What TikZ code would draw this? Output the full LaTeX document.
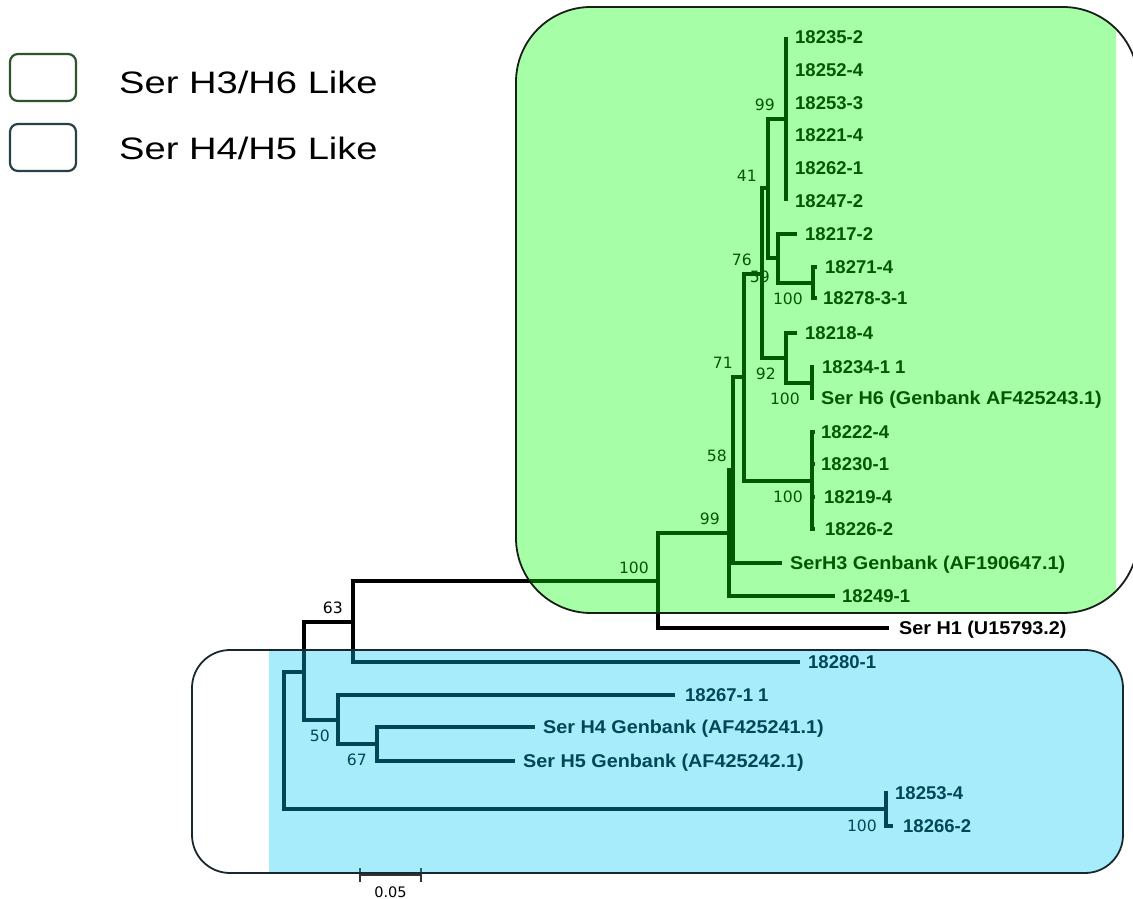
\documentclass[tikz,border=0pt]{standalone}
\usepackage{fontspec}
\setmainfont{Liberation Sans}
\newfontfamily\bsfont{DejaVu Sans}
\newfontfamily\legfont[FakeStretch=1.23]{Liberation Sans}
\newfontfamily\widefont[FakeStretch=1.07]{Liberation Sans}
\definecolor{gover}{rgb}{0,1,0}
\definecolor{bover}{rgb}{0,0.79,0.94}
\definecolor{gedge}{RGB}{45,85,45}
\definecolor{bedge}{RGB}{40,65,72}
\definecolor{boxline}{RGB}{25,30,25}
\definecolor{bboxline}{RGB}{25,40,45}
\begin{document}
\begin{tikzpicture}[x=1pt,y=-1pt,
  br/.style={line width=3.2pt, line join=miter, line cap=butt, black},
  leaf/.style={anchor=west, inner xsep=8pt, inner ysep=0pt, text height=13.3pt, text depth=0pt,
               font=\fontsize{18.5}{20}\selectfont\bfseries},
  wleaf/.style={leaf, font=\widefont\fontsize{18.5}{20}\selectfont\bfseries},
  bs/.style={anchor=east, inner sep=0pt, text height=11.3pt, text depth=0pt,
             font=\bsfont\fontsize{15.6}{16}\selectfont},
  legbox/.style={draw, line width=2.2pt, rounded corners=8pt, minimum width=66pt, minimum height=47pt, inner sep=0pt, fill=white},
  legtext/.style={anchor=base west, inner sep=0pt, font=\legfont\fontsize{31}{32}\selectfont}]
\useasboundingbox (0,0) rectangle (1133,899);

% legend
\node[legbox, draw=gedge] (k1) at (43,77.5) {};
\node[legbox, draw=bedge] (k2) at (43,147.5) {};
\node[legtext] (lg1) at (119,94) {Ser H3/H6 Like};
\node[legtext] (lg2) at (119,159) {Ser H4/H5 Like};

% internal nodes
\coordinate (R) at (284,740);
\coordinate (n303) at (304,672);
\coordinate (n353) at (353,622);
\coordinate (n658) at (658,581);
\coordinate (n729) at (729,533);
\coordinate (n733) at (733,470);
\coordinate (n744) at (744,377);
\coordinate (n762) at (762,274);
\coordinate (n768) at (768,188);
\coordinate (n786a) at (786,119);
\coordinate (n778) at (778,258);
\coordinate (n813) at (813,283);
\coordinate (n786b) at (786,358);
\coordinate (n810) at (812,383);
\coordinate (n812) at (812,481);
\coordinate (n338) at (338,720);
\coordinate (n377) at (377,744);
\coordinate (n887) at (886,809);

% leaves
\node[leaf, inner xsep=9pt] (a1) at (786,37) {18235-2};
\node[leaf, inner xsep=9pt] (a2) at (786,70) {18252-4};
\node[leaf, inner xsep=9pt] (a3) at (786,103) {18253-3};
\node[leaf, inner xsep=9pt] (a4) at (786,135) {18221-4};
\node[leaf, inner xsep=9pt] (a5) at (786,168) {18262-1};
\node[leaf, inner xsep=9pt] (a6) at (786,201) {18247-2};
\node[leaf] (b1) at (797,234) {18217-2};
\node[leaf] (c1) at (817,267) {18271-4};
\node[leaf, inner xsep=6pt] (c2) at (817,298) {18278-3-1};
\node[leaf] (d1) at (797,333) {18218-4};
\node[leaf] (e1) at (814,367) {18234-1 1};
\node[wleaf, inner xsep=7pt] (e2) at (814,398) {Ser H6 (Genbank AF425243.1)};
\node[leaf, inner xsep=6pt] (f1) at (815,432) {18222-4};
\node[leaf, inner xsep=6pt] (f2) at (815,464) {18230-1};
\node[leaf, inner xsep=9pt] (f3) at (815,497) {18219-4};
\node[leaf, inner xsep=10pt] (f4) at (815,529) {18226-2};
\node[wleaf] (g1) at (782,563) {SerH3 Genbank (AF190647.1)};
\node[leaf, inner xsep=7pt] (g2) at (835,596) {18249-1};
\node[wleaf, inner xsep=10pt] (h1) at (889,628) {Ser H1 (U15793.2)};
\node[leaf] (i1) at (800,662) {18280-1};
\node[leaf, inner xsep=10pt] (j1) at (675,695) {18267-1 1};
\node[wleaf] (j2) at (535,727) {Ser H4 Genbank (AF425241.1)};
\node[wleaf] (j3) at (515,761) {Ser H5 Genbank (AF425242.1)};
\node[leaf, inner xsep=7pt] (k3) at (888,793) {18253-4};
\node[leaf, inner xsep=10pt] (k4) at (893,826) {18266-2};

% branches
\draw[br] (R) |- (n303);
\draw[br] (R) |- (n887);
\draw[br] (n303) |- (n353);
\draw[br] (n303) |- (n338);
\draw[br] (n353) |- (n658);
\draw[br] (n353) |- (i1.west);
\draw[br] (n658) |- (n729);
\draw[br] (n658) |- (h1.west);
\draw[br] (n729) |- (n733);
\draw[br] (n729) |- (g2.west);
\draw[br] (n733) |- (n744);
\draw[br] (n733) |- (g1.west);
\draw[br] (n744) |- (n762);
\draw[br] (n744) |- (n812);
\draw[br] (n762) |- (n768);
\draw[br] (n762) |- (n786b);
\draw[br] (n768) |- (n786a);
\draw[br] (n768) |- (n778);
\draw[br] (n786a) |- (a1.west);
\draw[br] (n786a) |- (a2.west);
\draw[br] (n786a) |- (a3.west);
\draw[br] (n786a) |- (a4.west);
\draw[br] (n786a) |- (a5.west);
\draw[br] (n786a) |- (a6.west);
\draw[br] (n778) |- (b1.west);
\draw[br] (n778) |- (n813);
\draw[br] (n813) |- (c1.west);
\draw[br] (n813) |- (c2.west);
\draw[br] (n786b) |- (d1.west);
\draw[br] (n786b) |- (n810);
\draw[br] (n810) |- (e1.west);
\draw[br] (n810) |- (e2.west);
\draw[br] (n812) |- (f1.west);
\draw[br] (n812) |- (f2.west);
\draw[br] (n812) |- (f3.west);
\draw[br] (n812) |- (f4.west);
\draw[br] (n338) |- (j1.west);
\draw[br] (n338) |- (n377);
\draw[br] (n377) |- (j2.west);
\draw[br] (n377) |- (j3.west);
\draw[br] (n887) |- (k3.west);
\draw[br] (n887) |- (k4.west);

% bootstrap values
\node[bs] (s1) at (775,105) {99};
\node[bs] (s2) at (757,176) {41};
\node[bs] (s3) at (752,260) {76};
\node[bs] (s4) at (770,277) {59};
\node[bs] (s5) at (803,299) {100};
\node[bs] (s6) at (733,363) {71};
\node[bs] (s7) at (776,374) {92};
\node[bs] (s8) at (800,399) {100};
\node[bs] (s9) at (727,456) {58};
\node[bs] (s10) at (803,497) {100};
\node[bs] (s11) at (720,519) {99};
\node[bs] (s12) at (649,568) {100};
\node[bs] (s13) at (343,608) {63};
\node[bs] (s14) at (330,736) {50};
\node[bs] (s15) at (367,760) {67};
\node[bs] (s16) at (877,826) {100};

% scale bar
\coordinate (sb1) at (360,875);
\coordinate (sb2) at (421,875);
\draw[line width=1.6pt, black!80] (sb1) -- (sb2);
\draw[line width=1.6pt, black!80] ([yshift=-7pt]sb1) -- ([yshift=7pt]sb1);
\draw[line width=1.6pt, black!80] ([yshift=-7pt]sb2) -- ([yshift=7pt]sb2);
\node[bs, anchor=center, font=\bsfont\fontsize{14.5}{15}\selectfont] (sbl) at (390.5,892) {0.05};

% translucent group overlays
\begin{scope}
  \clip (269,0) rectangle (1116,647);
  \fill[gover, opacity=0.35, rounded corners=75pt] (516,7) rectangle (1138,613);
\end{scope}
\begin{scope}
  \clip (269,640) rectangle (1133,899);
  \fill[bover, opacity=0.35, rounded corners=38pt] (192,650) rectangle (1123,873);
\end{scope}
\draw[boxline, line width=1.8pt, rounded corners=75pt] (516,7) rectangle (1138,613);
\draw[bboxline, line width=1.8pt, rounded corners=38pt] (192,650) rectangle (1123,873);
\end{tikzpicture}
\end{document}
